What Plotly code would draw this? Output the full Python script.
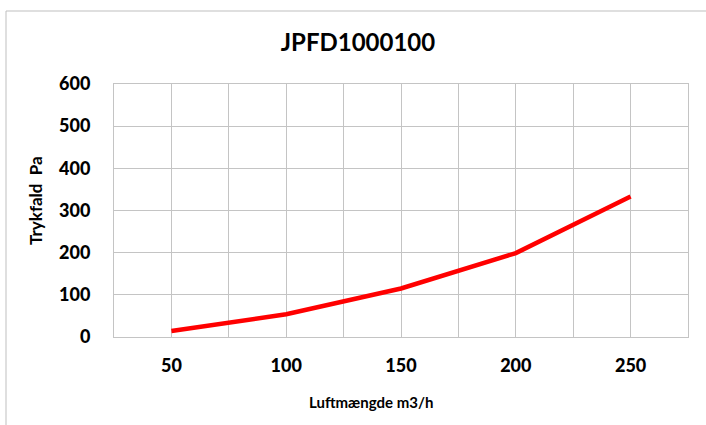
import plotly.graph_objects as go

airflow = [50, 100, 150, 200, 250]
pressure_drop = [14, 54, 115, 199, 333]
x_grid = [25, 50, 75, 100, 125, 150, 175, 200, 225, 250, 275]
x_labels = ["", "50", "", "100", "", "150", "", "200", "", "250", ""]
y_ticks = [0, 100, 200, 300, 400, 500, 600]

FONT = "Lato, 'Open Sans', sans-serif"
GRID = "#c4c4c4"
W, H = 706, 425
ML, MR, MT, MB = 114, 18, 84, 88
PW, PH = W - ML - MR, H - MT - MB

fig = go.Figure()
fig.add_trace(go.Scatter(
    x=airflow, y=pressure_drop, mode="lines",
    line=dict(color="#ff0000", width=4.5),
    showlegend=False, hoverinfo="skip",
))

fig.update_layout(
    width=W, height=H,
    margin=dict(l=ML, r=MR, t=MT, b=MB),
    paper_bgcolor="white", plot_bgcolor="white",
    title=dict(text="<b>JPFD1000100</b>", x=358 / W, xanchor="center",
               y=1 - 43 / H, yanchor="middle", yref="container",
               font=dict(family=FONT, size=24, color="#000000")),
    font=dict(family=FONT, color="#000000"),
    xaxis=dict(
        range=[25, 275], tickmode="array", tickvals=x_grid, ticktext=x_labels,
        showgrid=True, gridcolor=GRID, gridwidth=1, automargin=False,
        showline=True, linecolor=GRID, linewidth=1, mirror=True,
        zeroline=False, ticks="", ticklabelstandoff=12,
        tickfont=dict(family=FONT, size=18, color="#000000", weight=900),
    ),
    yaxis=dict(
        range=[0, 600], tickmode="array", tickvals=y_ticks,
        showgrid=True, gridcolor=GRID, gridwidth=1, automargin=False,
        showline=True, linecolor=GRID, linewidth=1, mirror=True,
        zeroline=False, ticks="", ticklabelstandoff=19,
        tickfont=dict(family=FONT, size=18, color="#000000", weight=900),
    ),
    annotations=[
        dict(text="<b>Luftmængde m3/h</b>", xref="paper", yref="paper",
             x=(371 - ML) / PW, y=-(402 - (MT + PH)) / PH,
             xanchor="center", yanchor="middle", showarrow=False,
             font=dict(family=FONT, size=15, color="#000000")),
        dict(text="<b>Trykfald  Pa</b>", xref="paper", yref="paper",
             x=(35 - ML) / PW, y=(MT + PH - 201) / PH, textangle=-90,
             xanchor="center", yanchor="middle", showarrow=False,
             font=dict(family=FONT, size=17, color="#000000")),
    ],
    shapes=[dict(type="rect", xref="paper", yref="paper",
                 x0=(6 - ML) / PW, x1=2.0, y0=-1.0, y1=(H - MB - 11) / PH,
                 line=dict(color="#bfbfbf", width=1), fillcolor="rgba(0,0,0,0)",
                 layer="below")],
)

fig.write_html("out.html", config={"displayModeBar": False},
               post_script="document.body.style.margin='0';document.body.style.overflow='hidden';")
